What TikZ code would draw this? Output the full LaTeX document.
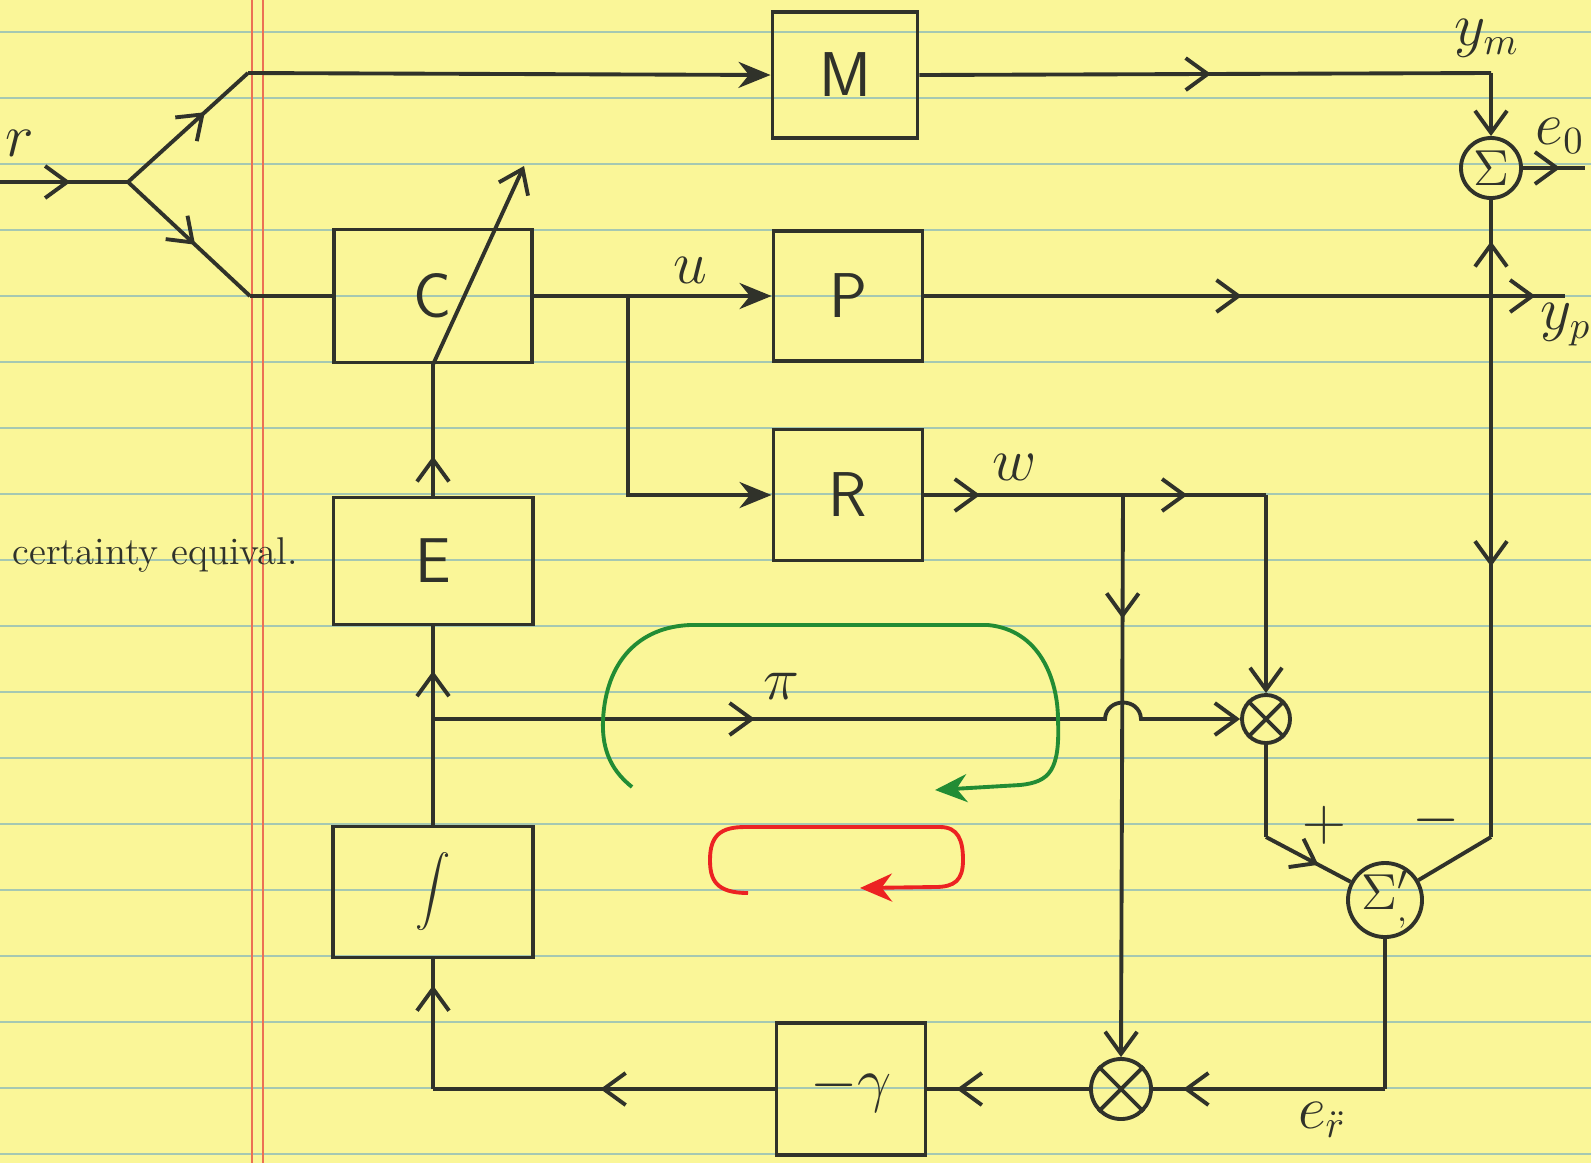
\documentclass[tikz,border=0pt]{standalone}
\usetikzlibrary{arrows.meta,decorations.markings}
\definecolor{paper}{RGB}{250,246,152}
\definecolor{ruled}{RGB}{165,200,178}
\definecolor{margin}{RGB}{236,112,84}
\definecolor{ink}{RGB}{48,50,42}
\definecolor{loopgreen}{RGB}{34,140,52}
\definecolor{loopred}{RGB}{236,34,34}
\begin{document}
\begin{tikzpicture}[x=0.01cm, y=-0.01cm, line width=1.1pt, ink,
	block/.style={draw, rectangle, inner sep=0pt, font=\fontsize{18}{20}\selectfont\sffamily},
	sumnode/.style={draw, circle, inner sep=0pt, font=\fontsize{14}{16}\selectfont},
	multnode/.style={draw, circle, inner sep=0pt},
	lbl/.style={inner sep=1pt, font=\fontsize{16}{18}\selectfont},
	midarr/.style={postaction={decorate}, decoration={markings, mark=at position #1 with {\arrow{Straight Barb[length=2.2mm, width=3.2mm]}}}},
	barbend/.style={-{Straight Barb[length=2.2mm, width=3.2mm]}},
	fillend/.style={-{Stealth[length=3.2mm, width=2.6mm]}}]
			% Paper
			\fill[paper] (0,0) rectangle (1591,1163);
			\useasboundingbox (0,0) rectangle (1591,1163);
			\foreach \yy in {32,98,...,1154}
				\draw[ruled, line width=0.8pt] (0,\yy) -- (1591,\yy);
			\draw[margin, line width=0.7pt] (252,0) -- (252,1163);
			\draw[margin, line width=0.7pt] (263,0) -- (263,1163);

			% Nodes
			\node[block, minimum width=1.45cm, minimum height=1.26cm] (M) at (845,75) {M};      % Model
			\node[block, minimum width=1.98cm, minimum height=1.33cm] (C) at (433,296) {C};     % Controller
			\node[block, minimum width=1.49cm, minimum height=1.30cm] (P) at (848,296) {P};     % Plant
			\node[block, minimum width=1.49cm, minimum height=1.31cm] (R) at (848,495) {R};     % Regressor
			\node[block, minimum width=1.99cm, minimum height=1.27cm] (E) at (433,561) {E};     % Estimate
			\node[block, minimum width=2.00cm, minimum height=1.31cm] (I) at (433,892) {$\displaystyle\int$};  % Integrator
			\node[block, minimum width=1.49cm, minimum height=1.32cm] (G) at (851,1089) {$-\gamma$}; % Gain
			\node[sumnode, minimum size=0.6cm] (S) at (1491,168) {$\Sigma$};          % Output error
			\node[sumnode, minimum size=0.64cm] (S2) at (1385,900) {$\Sigma'_{,}$};   % Second sum
			\node[multnode, minimum size=0.48cm] (X1) at (1266,719) {};               % Product w pi
			\node[multnode, minimum size=0.6cm] (X2) at (1121,1089) {};               % Product w e
			\draw (X1.north west) -- (X1.south east) (X1.north east) -- (X1.south west);
			\draw (X2.north west) -- (X2.south east) (X2.north east) -- (X2.south west);

			% Junctions
			\coordinate (rin) at (0,182);
			\coordinate (split) at (128,182);
			\coordinate (mtop) at (248,73);
			\coordinate (cbot) at (250,296);
			\coordinate (uj) at (628,296);
			\coordinate (ypj) at (1491,296);
			\coordinate (ypend) at (1565,296);
			\coordinate (ymc) at (1491,73);
			\coordinate (eoend) at (1585,168);
			\coordinate (minusc) at (1491,837);
			\coordinate (wj) at (1123,495);
			\coordinate (wc) at (1266,495);
			\coordinate (pij) at (433,719);
			\coordinate (plusc) at (1266,837);
			\coordinate (erc) at (1385,1089);
			\coordinate (intc) at (433,1089);
			\coordinate (adapt) at (524,166);

			% Edges
			\draw[midarr=0.55] (rin) -- (split);
			\draw[midarr=0.64] (split) -- (mtop);
			\draw[midarr=0.55] (split) -- (cbot);
			\draw[fillend] (mtop) -- (M.west);
			\draw (cbot) -- (C.west);
			\draw (C.east) -- (uj);
			\draw[fillend] (uj) -- (P.west);
			\draw[fillend] (uj) |- (R.west);
			\draw[midarr=0.56] (P.east) -- (ypj);
			\draw[midarr=0.6] (ypj) -- (ypend);
			\draw[midarr=0.51] (M.east) -- (ymc);
			\draw[barbend] (ymc) -- (S.north);
			\draw[midarr=0.6] (S.east) -- (eoend);
			\draw[midarr=0.57] (ypj) -- (S.south);
			\draw[midarr=0.5] (ypj) -- (minusc);
			\draw (minusc) -- (S2);
			\draw[midarr=0.28] (R.east) -- (wj);
			\draw[midarr=0.45] (wj) -- (wc);
			\draw[barbend] (wc) -- (X1.north);
			\draw[midarr=0.22, barbend] (wj) -- (X2.north);
			\draw[midarr=0.39, barbend] (pij) -- (1105,719) .. controls (1106,697) and (1140,697) .. (1141,719) -- (X1.west);
			\draw (X1.south) -- (plusc);
			\draw[midarr=0.62] (plusc) -- (S2);
			\draw (S2.south) -- (erc);
			\draw[midarr=0.87] (erc) -- (X2.east);
			\draw[midarr=0.82] (X2.west) -- (G.east);
			\draw[midarr=0.51] (G.west) -- (intc);
			\draw[midarr=0.8] (intc) -- (I.south);
			\draw (I.north) -- (pij);
			\draw[midarr=0.52] (pij) -- (E.south);
			\draw[midarr=0.3] (E.north) -- (C.south);
			\draw[barbend] (C.south) -- (adapt);  % adaptation

			% Loops
			\draw[loopgreen, -{Stealth[length=3.2mm, width=2.8mm]}] (632,787) .. controls (608,768) and (602,745) .. (603,720)
				.. controls (606,660) and (640,627) .. (690,625) -- (988,625)
				.. controls (1040,630) and (1058,680) .. (1058,720)
				.. controls (1060,770) and (1050,782) .. (1020,785) -- (935,790);
			\draw[loopred, -{Stealth[length=3.2mm, width=2.8mm]}] (748,893) .. controls (716,893) and (710,880) .. (710,860)
				.. controls (710,836) and (720,827) .. (745,827) -- (940,827)
				.. controls (958,827) and (963,840) .. (963,860)
				.. controls (963,880) and (955,887) .. (935,887) -- (860,888);

			% Labels
			\node[lbl] (rlbl) at (20,143) {$r$};
			\node[lbl] (ulbl) at (690,270) {$u$};
			\node[lbl] (ymlbl) at (1487,38) {$y_m$};
			\node[lbl] (eolbl) at (1560,136) {$e_0$};
			\node[lbl] (yplbl) at (1566,325) {$y_p$};
			\node[lbl] (wlbl) at (1015,467) {$w$};
			\node[lbl] (pilbl) at (781,686) {$\pi$};
			\node[lbl] (plbl) at (1324,825) {$+$};
			\node[lbl] (mlbl) at (1436,820) {$-$};
			\node[lbl] (erlbl) at (1322,1120) {$e_{\ddot r}$};
			\node[inner sep=0pt, font=\fontsize{11}{13}\selectfont] (celbl) at (155,555) {certainty equival.};
		\end{tikzpicture}
\end{document}
